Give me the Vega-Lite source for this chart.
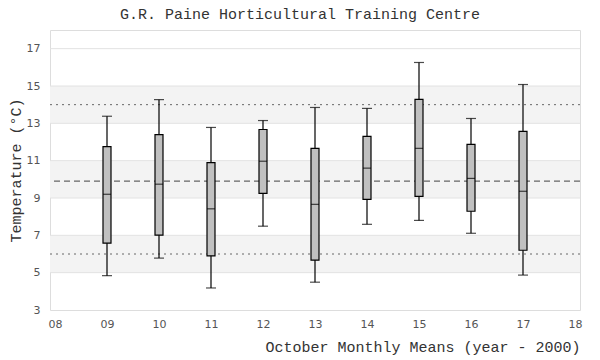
{
  "$schema": "https://vega.github.io/schema/vega-lite/v6.json",
  "autosize": {"type": "none"},
  "width": 530,
  "height": 280,
  "padding": {"left": 50, "top": 30, "right": 20, "bottom": 50},
  "background": "white",
  "title": {
    "text": "G.R. Paine Horticultural Training Centre",
    "font": "Liberation Mono",
    "fontSize": 15,
    "fontWeight": "normal",
    "color": "#333333",
    "anchor": "middle",
    "dx": -15,
    "offset": 8
  },
  "config": {
    "view": {"stroke": "#dddddd", "strokeWidth": 1},
    "axis": {"grid": false, "ticks": false, "domain": false, "labelOverlap": false}
  },
  "datasets": {
    "boxes": [
      {"year": 9, "lo": 4.84, "q1": 6.58, "med": 9.2, "q3": 11.75, "hi": 13.38},
      {"year": 10, "lo": 5.78, "q1": 7.01, "med": 9.74, "q3": 12.4, "hi": 14.27},
      {"year": 11, "lo": 4.18, "q1": 5.9, "med": 8.42, "q3": 10.9, "hi": 12.78},
      {"year": 12, "lo": 7.49, "q1": 9.25, "med": 10.97, "q3": 12.67, "hi": 13.15},
      {"year": 13, "lo": 4.49, "q1": 5.67, "med": 8.66, "q3": 11.66, "hi": 13.85},
      {"year": 14, "lo": 7.59, "q1": 8.93, "med": 10.6, "q3": 12.3, "hi": 13.8},
      {"year": 15, "lo": 7.8, "q1": 9.09, "med": 11.66, "q3": 14.28, "hi": 16.26},
      {"year": 16, "lo": 7.11, "q1": 8.29, "med": 10.05, "q3": 11.87, "hi": 13.26},
      {"year": 17, "lo": 4.87, "q1": 6.2, "med": 9.36, "q3": 12.57, "hi": 15.08}
    ],
    "bands": [
      {"from": 5, "to": 7},
      {"from": 9, "to": 11},
      {"from": 13, "to": 15}
    ],
    "gridlines": [{"v": 5}, {"v": 7}, {"v": 9}, {"v": 11}, {"v": 13}, {"v": 15}, {"v": 17}],
    "dashed": [{"v": 9.9}],
    "dotted": [{"v": 6}, {"v": 14}]
  },
  "layer": [
    {
      "data": {"name": "bands"},
      "mark": {"type": "rect", "fill": "#f3f3f3"},
      "encoding": {
        "y": {"field": "from", "type": "quantitative", "scale": {"domain": [3, 18], "nice": false, "zero": false},
          "axis": {
            "values": [3, 5, 7, 9, 11, 13, 15, 17],
            "tickCount": 8,
            "labelOverlap": false,
            "labelSeparation": 0,
            "labelFont": "DejaVu Sans",
            "labelFontSize": 11,
            "labelColor": "#555555",
            "labelPadding": 10,
            "title": "Temperature (°C)",
            "titleFont": "Liberation Mono",
            "titleFontSize": 15,
            "titleFontWeight": "normal",
            "titleColor": "#333333",
            "titlePadding": 3
          }},
        "y2": {"field": "to"}
      }
    },
    {
      "data": {"name": "gridlines"},
      "mark": {"type": "rule", "stroke": "#e2e2e2", "strokeWidth": 1},
      "encoding": {"y": {"field": "v", "type": "quantitative"}}
    },
    {
      "data": {"name": "dashed"},
      "mark": {"type": "rule", "stroke": "#666666", "strokeWidth": 1.2, "strokeDash": [6, 4]},
      "encoding": {"y": {"field": "v", "type": "quantitative"}}
    },
    {
      "data": {"name": "dotted"},
      "mark": {"type": "rule", "stroke": "#666666", "strokeWidth": 1, "strokeDash": [2, 4]},
      "encoding": {"y": {"field": "v", "type": "quantitative"}}
    },
    {
      "data": {"name": "boxes"},
      "mark": {"type": "rule", "stroke": "black", "strokeWidth": 1.2},
      "encoding": {
        "x": {"field": "year", "type": "quantitative", "scale": {"domain": [8, 18], "nice": false, "zero": false},
          "axis": {
            "values": [8, 9, 10, 11, 12, 13, 14, 15, 16, 17, 18],
            "labelOverlap": false,
            "format": "02d",
            "labelFont": "DejaVu Sans",
            "labelFontSize": 11,
            "labelColor": "#555555",
            "labelPadding": 8,
            "title": "October Monthly Means (year - 2000)",
            "titleFont": "Liberation Mono",
            "titleFontSize": 15,
            "titleFontWeight": "normal",
            "titleColor": "#333333",
            "titleAnchor": "end",
            "titlePadding": 10
          }},
        "y": {"field": "lo", "type": "quantitative"},
        "y2": {"field": "hi"}
      }
    },
    {
      "data": {"name": "boxes"},
      "mark": {"type": "tick", "orient": "horizontal", "size": 10, "thickness": 1.2, "color": "black"},
      "encoding": {
        "x": {"field": "year", "type": "quantitative"},
        "y": {"field": "lo", "type": "quantitative"}
      }
    },
    {
      "data": {"name": "boxes"},
      "mark": {"type": "tick", "orient": "horizontal", "size": 10, "thickness": 1.2, "color": "black"},
      "encoding": {
        "x": {"field": "year", "type": "quantitative"},
        "y": {"field": "hi", "type": "quantitative"}
      }
    },
    {
      "data": {"name": "boxes"},
      "mark": {"type": "bar", "width": 8, "fill": "#c0c0c0", "stroke": "black", "strokeWidth": 1.2, "orient": "vertical"},
      "encoding": {
        "x": {"field": "year", "type": "quantitative"},
        "y": {"field": "q1", "type": "quantitative"},
        "y2": {"field": "q3"}
      }
    },
    {
      "data": {"name": "boxes"},
      "mark": {"type": "tick", "orient": "horizontal", "size": 8, "thickness": 1.2, "color": "black"},
      "encoding": {
        "x": {"field": "year", "type": "quantitative"},
        "y": {"field": "med", "type": "quantitative"}
      }
    }
  ]
}
